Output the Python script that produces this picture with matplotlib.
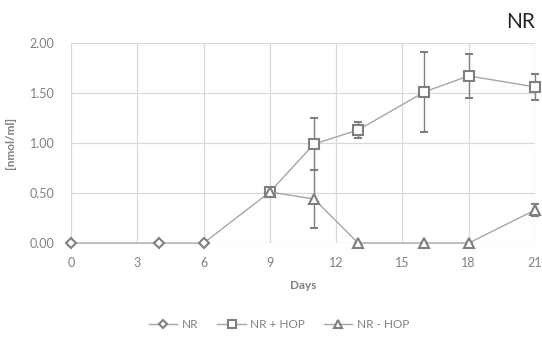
import numpy as np
import matplotlib
matplotlib.use("Agg")
import matplotlib.pyplot as plt

plt.rcParams['font.family'] = ['Lato', 'DejaVu Sans']

# data
nr_days = [0, 4, 6, 9]
nr_vals = [0.0, 0.0, 0.0, 0.51]

hop_days = [9, 11, 13, 16, 18, 21]
hop_vals = [0.51, 0.99, 1.13, 1.51, 1.67, 1.56]
hop_err = [0.0, 0.26, 0.08, 0.40, 0.22, 0.13]

nohop_days = [9, 11, 13, 16, 18, 21]
nohop_vals = [0.51, 0.44, 0.0, 0.0, 0.0, 0.33]
nohop_err = [0.0, 0.29, 0.0, 0.0, 0.0, 0.06]

x_ticks = [0, 3, 6, 9, 12, 15, 18, 21]
y_ticks = [0.0, 0.5, 1.0, 1.5, 2.0]

line_c = '#a6a6a6'
mark_c = '#7f7f7f'
text_c = '#808080'

fig = plt.figure(figsize=(5.42, 3.40), dpi=100)
ax = fig.add_axes([0.131, 0.285, 0.856, 0.589])

common = dict(color=line_c, lw=1.0, mfc='white', mec=mark_c, mew=1.5,
              ecolor=mark_c, elinewidth=1.0, capsize=3, clip_on=False, zorder=3)

e1 = ax.errorbar(nr_days, nr_vals, marker='D', ms=5, label='NR', **common)
e2 = ax.errorbar(hop_days, hop_vals, yerr=hop_err, marker='s', ms=7, label='NR + HOP', **common)
e3 = ax.errorbar(nohop_days, nohop_vals, yerr=nohop_err, marker='^', ms=7.5, label='NR - HOP', **common)

ax.set_xlim(0, 21)
ax.set_ylim(0, 2)
ax.set_xticks(x_ticks)
ax.set_yticks(y_ticks)
ax.set_yticklabels([f'{v:.2f}' for v in y_ticks])
ax.grid(True, color='#d9d9d9', lw=0.9)
ax.set_axisbelow(True)
for s in ax.spines.values():
    s.set_visible(False)
ax.tick_params(length=0, colors=text_c, labelsize=9)
ax.tick_params(axis='y', pad=12)
ax.tick_params(axis='x', pad=10)

ax.set_xlabel('Days', color=text_c, fontsize=8.5, fontweight='bold', labelpad=8)
ax.set_ylabel('[nmol/ml]', color=text_c, fontsize=8.5, fontweight='bold', labelpad=10)

fig.text(0.988, 0.935, 'NR', ha='right', va='center', fontsize=15, color='#262626')

# legend from the line parts only (no error bars in the handles)
handles = [e1[0], e2[0], e3[0]]
labels = ['NR', 'NR + HOP', 'NR - HOP']
leg = fig.legend(handles, labels, loc='center', bbox_to_anchor=(0.515, 0.045), ncol=3,
                 frameon=False, fontsize=8.5, handlelength=2.4, columnspacing=1.6,
                 handletextpad=0.4, markerscale=0.75)
for t in leg.get_texts():
    t.set_color(text_c)

fig.savefig('out.png', dpi=100)
